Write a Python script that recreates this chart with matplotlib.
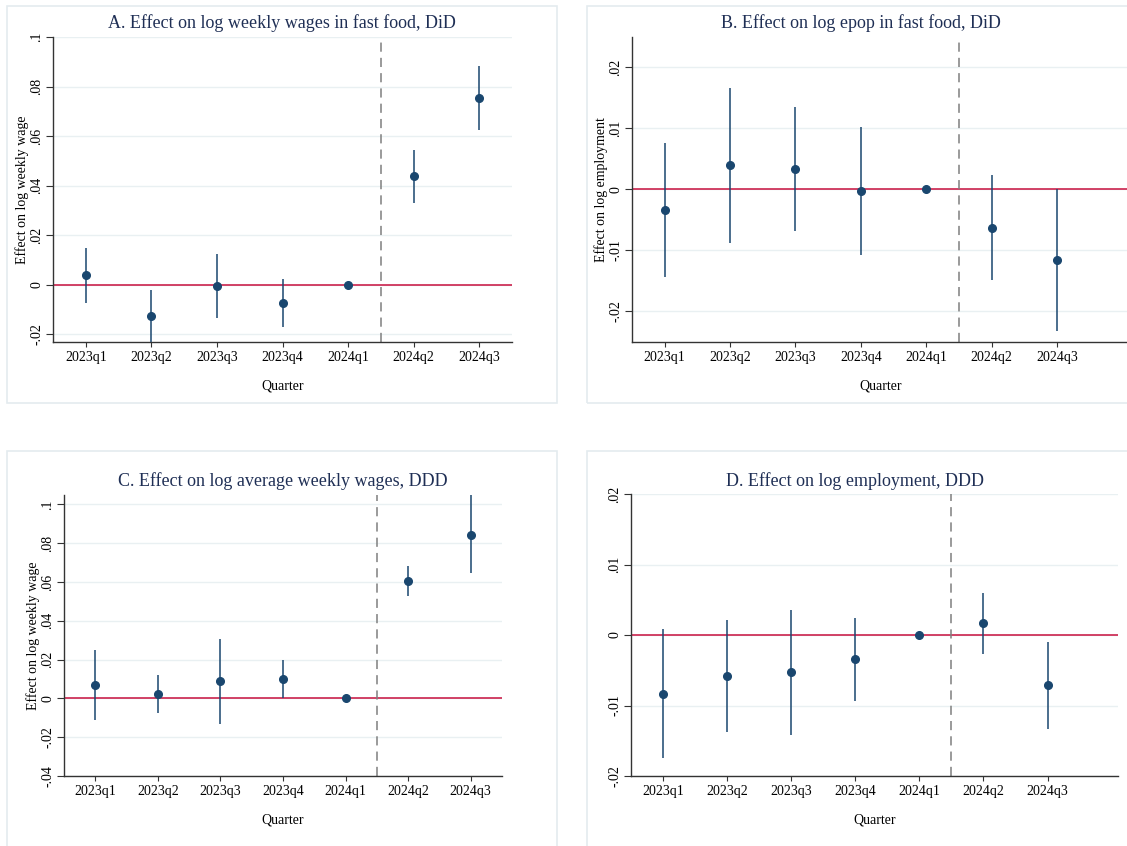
import matplotlib
matplotlib.use("Agg")
import matplotlib.pyplot as plt
from matplotlib.patches import Rectangle

plt.rcParams['font.family'] = ['Liberation Serif', 'DejaVu Serif']

quarters = ["2023q1", "2023q2", "2023q3", "2023q4", "2024q1", "2024q2", "2024q3"]

# A: log weekly wages in fast food, DiD
a_est = [0.0038, -0.0125, -0.0006, -0.0074, 0.0, 0.0437, 0.0753]
a_lo = [-0.0074, -0.026, -0.0134, -0.0172, 0.0, 0.0330, 0.0625]
a_hi = [0.0149, -0.0020, 0.0125, 0.0024, 0.0, 0.0544, 0.0883]
a_ticks = [-0.02, 0, 0.02, 0.04, 0.06, 0.08, 0.1]
a_ticklabels = ["-.02", "0", ".02", ".04", ".06", ".08", ".1"]

# B: log epop in fast food, DiD
b_est = [-0.0034, 0.0040, 0.0033, -0.0002, 0.0, -0.0063, -0.0116]
b_lo = [-0.0144, -0.0087, -0.0068, -0.0107, 0.0, -0.0149, -0.0232]
b_hi = [0.0076, 0.0167, 0.0135, 0.0103, 0.0, 0.0023, 0.0000]
b_ticks = [-0.02, -0.01, 0, 0.01, 0.02]
b_ticklabels = ["-.02", "-.01", "0", ".01", ".02"]

# C: log average weekly wages, DDD
c_est = [0.0069, 0.0024, 0.0088, 0.0101, 0.0, 0.0605, 0.0844]
c_lo = [-0.0113, -0.0076, -0.0134, 0.0003, 0.0, 0.0527, 0.0646]
c_hi = [0.0251, 0.0122, 0.0308, 0.0198, 0.0, 0.0682, 0.1050]
c_ticks = [-0.04, -0.02, 0, 0.02, 0.04, 0.06, 0.08, 0.1]
c_ticklabels = ["-.04", "-.02", "0", ".02", ".04", ".06", ".08", ".1"]

# D: log employment, DDD
d_est = [-0.0083, -0.0058, -0.0053, -0.0034, 0.0, 0.0017, -0.0071]
d_lo = [-0.0175, -0.0137, -0.0142, -0.0093, 0.0, -0.0027, -0.0133]
d_hi = [0.0009, 0.0021, 0.0036, 0.0024, 0.0, 0.0060, -0.0010]
d_ticks = [-0.02, -0.01, 0, 0.01, 0.02]
d_ticklabels = ["-.02", "-.01", "0", ".01", ".02"]

W, H = 1127, 846
NAVY = "#1a476f"
TITLE = "#1f2f55"
GRID = "#e9f0f2"
FRAME = "#e4ebef"

fig = plt.figure(figsize=(W / 100, H / 100), dpi=100)
fig.patch.set_facecolor("white")


def px_axes(left, top, right, bottom):
    return fig.add_axes([left / W, 1 - bottom / H, (right - left) / W, (bottom - top) / H])


def frame(left, top, right, bottom):
    fig.patches.append(Rectangle((left / W, 1 - bottom / H), (right - left) / W, (bottom - top) / H,
                                 transform=fig.transFigure, fill=False, edgecolor=FRAME, lw=1.2))


def panel(box, est, lo, hi, ylim, xlim, ticks, ticklabels, ylabel, title, title_xy):
    ax = px_axes(*box)
    x = list(range(len(quarters)))
    ax.set_xlim(*xlim)
    ax.set_ylim(*ylim)
    ax.set_yticks(ticks)
    ax.set_yticklabels(ticklabels, rotation=90, va="center")
    ax.set_xticks(x)
    ax.set_xticklabels(quarters)
    ax.yaxis.grid(True, color=GRID, lw=1.0)
    ax.set_axisbelow(True)
    ax.axhline(0, color="#c8103e", lw=1.1, zorder=2)
    ax.axvline(4.5, color="#7f7f7f", lw=1.1, ls=(0, (6, 4)), zorder=2)
    ax.vlines(x, lo, hi, color=NAVY, lw=1.1, zorder=3)
    ax.plot(x, est, "o", color=NAVY, ms=5.5, zorder=4)
    for s in ["top", "right"]:
        ax.spines[s].set_visible(False)
    for s in ["left", "bottom"]:
        ax.spines[s].set_color("#333333")
        ax.spines[s].set_linewidth(1.0)
    ax.tick_params(direction="out", width=0.8, color="#333333", labelsize=10)
    ax.tick_params(axis="x", length=3.5, pad=3)
    ax.tick_params(axis="y", length=5, pad=2)
    ax.set_ylabel(ylabel, fontsize=10, labelpad=1)
    ax.set_xlabel("Quarter", fontsize=10, labelpad=11)
    fig.text(title_xy[0] / W, 1 - title_xy[1] / H, title, ha="center", va="center",
             fontsize=13, color=TITLE)
    return ax


frame(7, 6, 557, 403)
frame(587, 6, 1160, 403)
frame(7, 451, 557, 870)
frame(587, 451, 1160, 870)

panel((53, 37, 512, 342), a_est, a_lo, a_hi, (-0.0232, 0.1), (-0.5, 6.5),
      a_ticks, a_ticklabels, "Effect on log weekly wage",
      "A. Effect on log weekly wages in fast food, DiD", (282, 23))
panel((632, 37, 1129, 342), b_est, b_lo, b_hi, (-0.025, 0.025), (-0.5, 7.1),
      b_ticks, b_ticklabels, "Effect on log employment",
      "B. Effect on log epop in fast food, DiD", (861, 23))
panel((64, 495, 502, 776), c_est, c_lo, c_hi, (-0.04, 0.1048), (-0.5, 6.5),
      c_ticks, c_ticklabels, "Effect on log weekly wage",
      "C. Effect on log average weekly wages, DDD", (283, 481))
panel((631, 494, 1118, 776), d_est, d_lo, d_hi, (-0.02, 0.02), (-0.5, 7.1),
      d_ticks, d_ticklabels, "",
      "D. Effect on log employment, DDD", (855, 481))

fig.savefig("out.png", dpi=100)
